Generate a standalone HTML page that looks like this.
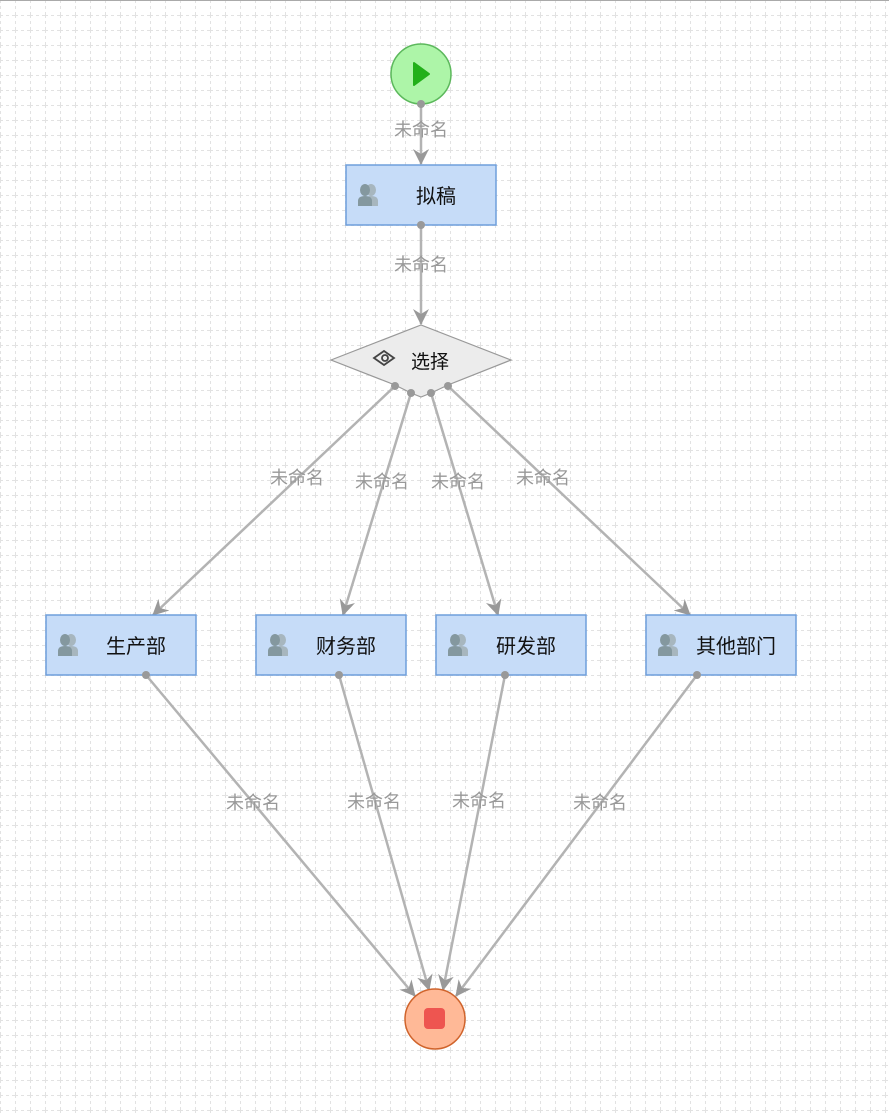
<!DOCTYPE html>
<html><head><meta charset="utf-8"><style>
html,body{margin:0;padding:0;background:#fff;}
svg{display:block;}
text{font-family:"Liberation Sans","Noto Sans CJK SC",sans-serif;}
</style></head><body>
<svg width="889" height="1113" viewBox="0 0 889 1113" xmlns="http://www.w3.org/2000/svg">
<defs>
<pattern id="g" width="15" height="15" patternUnits="userSpaceOnUse">
<line x1="0.5" y1="0" x2="0.5" y2="15" stroke="#e2e2e2" stroke-width="1" stroke-dasharray="3,3"/>
<line x1="0" y1="0.5" x2="15" y2="0.5" stroke="#e2e2e2" stroke-width="1" stroke-dasharray="3,3"/>
</pattern>
<marker id="a" markerWidth="16" markerHeight="16" refX="15" refY="8" orient="auto" markerUnits="userSpaceOnUse" viewBox="0 0 16 16">
<path d="M0,0 L16,8 L0,16 L5,8 Z" fill="#999"/>
</marker>
<g id="ppl">
<g transform="translate(6,0)" fill="#a7b6be">
<ellipse cx="7" cy="6" rx="5" ry="6"/><path d="M0,22 L0,17 q0,-5 7,-5 q7,0 7,5 L14,22 Z"/>
</g>
<g fill="#84989f">
<ellipse cx="7" cy="6" rx="5" ry="6"/><path d="M0,22 L0,17 q0,-5 7,-5 q7,0 7,5 L14,22 Z"/>
</g>
</g>
</defs>
<rect width="889" height="1113" fill="url(#g)"/>
<line x1="0" y1="0.5" x2="889" y2="0.5" stroke="#aaa"/>

<g stroke="#b3b3b3" stroke-width="2.5" fill="none" marker-end="url(#a)">
<line x1="421" y1="104" x2="421" y2="164"/>
<line x1="421" y1="225" x2="421" y2="324"/>
<line x1="395" y1="386" x2="153" y2="615"/>
<line x1="411" y1="393" x2="343" y2="615"/>
<line x1="431" y1="393" x2="498" y2="615"/>
<line x1="448" y1="386" x2="690" y2="615"/>
<line x1="146" y1="675" x2="415" y2="996"/>
<line x1="339" y1="675" x2="429" y2="990"/>
<line x1="505" y1="675" x2="443" y2="990"/>
<line x1="697" y1="675" x2="456" y2="996"/>
</g>

<circle cx="421" cy="74" r="30" fill="#adf5a8" stroke="#5cb85c" stroke-width="1.5"/>
<path d="M414,63 L429,74 L414,85 Z" fill="#22b01a" stroke="#22b01a" stroke-width="2" stroke-linejoin="round"/>

<rect x="346" y="165" width="150" height="60" fill="#c6dcf8" stroke="#6f9fdc" stroke-width="1.5"/>
<use href="#ppl" x="358" y="184"/>
<text x="436" y="203" font-size="20" text-anchor="middle" fill="#111">拟稿</text>

<path d="M331,360 L421,325 L511,360 L448,385 L431,393 L421,397 L411,393 L395,385 Z" fill="#ececec" stroke="#999" stroke-width="1.2"/>
<g transform="translate(384,358)" fill="none" stroke="#444" stroke-width="1.8">
<path d="M-10,0 L0,-7 L10,0 L0,7 Z"/><circle cx="1" cy="0" r="3"/>
</g>
<text x="430" y="368" font-size="19" text-anchor="middle" fill="#111">选择</text>

<g fill="#c6dcf8" stroke="#6f9fdc" stroke-width="1.5">
<rect x="46" y="615" width="150" height="60"/>
<rect x="256" y="615" width="150" height="60"/>
<rect x="436" y="615" width="150" height="60"/>
<rect x="646" y="615" width="150" height="60"/>
</g>
<use href="#ppl" x="58" y="634"/><use href="#ppl" x="268" y="634"/><use href="#ppl" x="448" y="634"/><use href="#ppl" x="658" y="634"/>
<g font-size="20" fill="#111" text-anchor="middle">
<text x="136" y="653">生产部</text><text x="346" y="653">财务部</text><text x="526" y="653">研发部</text><text x="736" y="653">其他部门</text>
</g>

<circle cx="435" cy="1019" r="30" fill="#ffb997" stroke="#d0642c" stroke-width="1.5"/>
<rect x="424" y="1008" width="21" height="21" rx="4" fill="#ee5550"/>

<g fill="#999">
<circle cx="421" cy="104" r="4"/><circle cx="421" cy="225" r="4"/>
<circle cx="395" cy="386" r="4"/><circle cx="411" cy="393" r="4"/><circle cx="431" cy="393" r="4"/><circle cx="448" cy="386" r="4"/>
<circle cx="146" cy="675" r="4"/><circle cx="339" cy="675" r="4"/><circle cx="505" cy="675" r="4"/><circle cx="697" cy="675" r="4"/>
</g>

<g font-size="18" fill="#999" text-anchor="middle">
<text x="421" y="136">未命名</text><text x="421" y="271">未命名</text>
<text x="297" y="484">未命名</text><text x="382" y="488">未命名</text><text x="458" y="488">未命名</text><text x="543" y="484">未命名</text>
<text x="253" y="809">未命名</text><text x="374" y="808">未命名</text><text x="479" y="807">未命名</text><text x="600" y="809">未命名</text>
</g>
</svg>
</body></html>
